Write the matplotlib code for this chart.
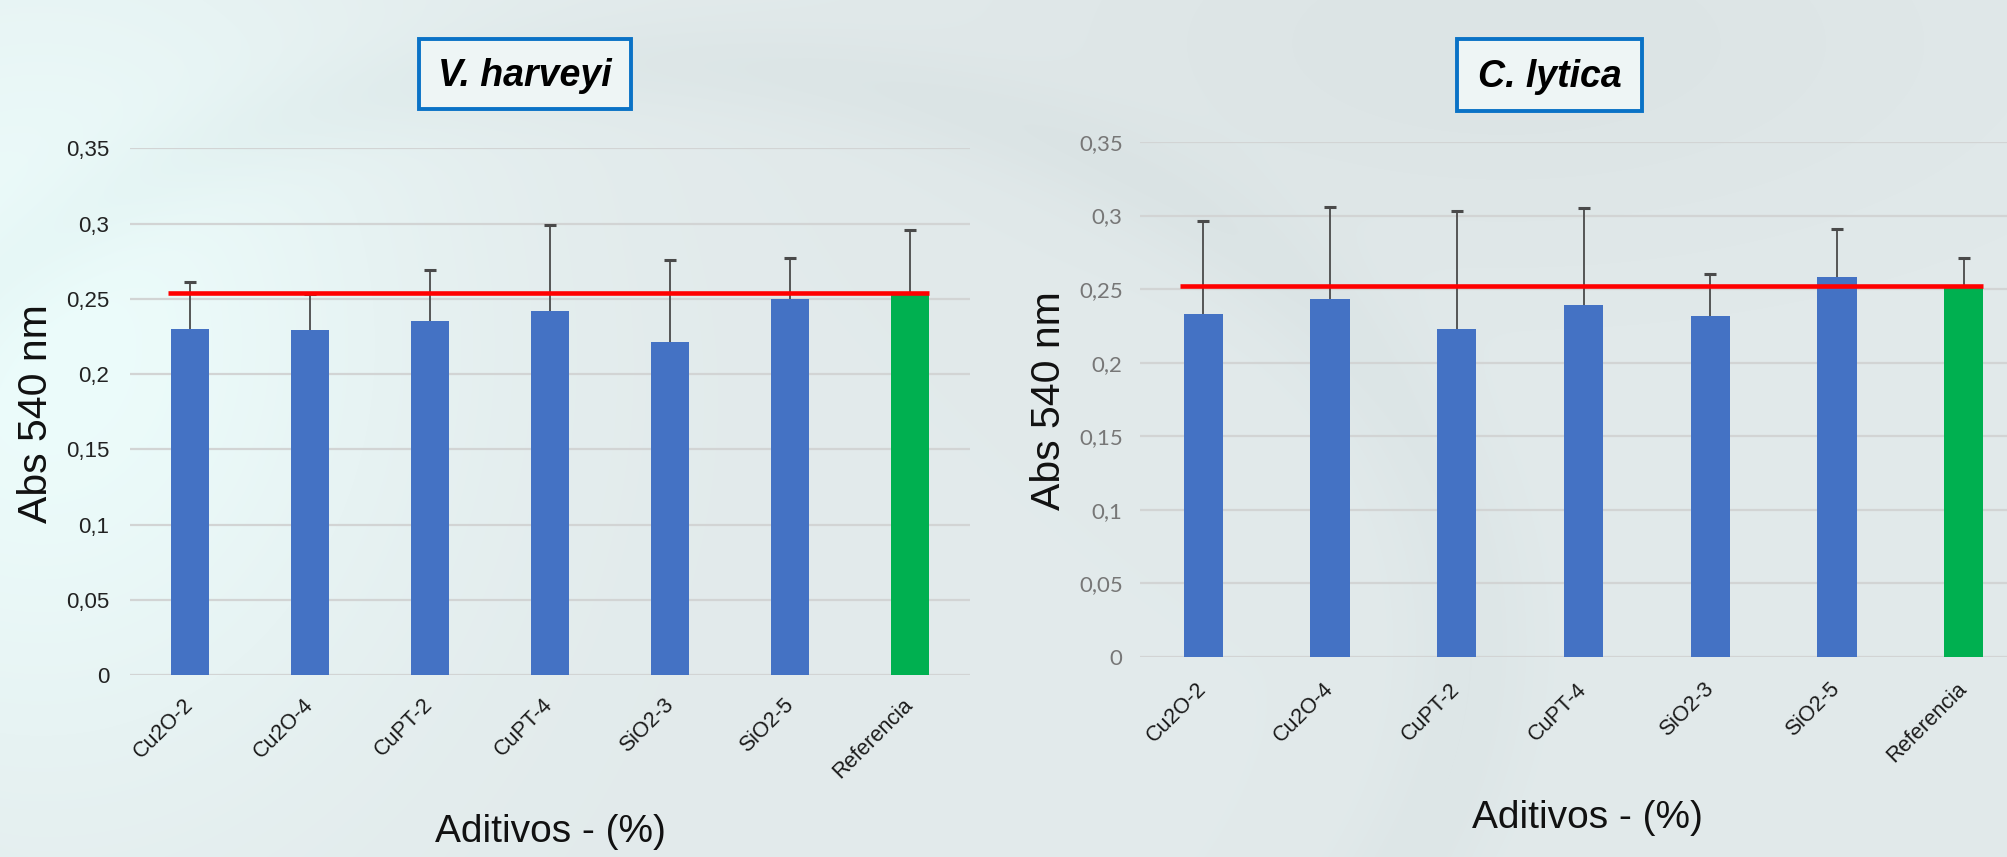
import matplotlib.pyplot as plt
import matplotlib.transforms as mtransforms
import numpy as np
from matplotlib.patches import Rectangle

# --- data -------------------------------------------------------------
categories = ["Cu2O-2", "Cu2O-4", "CuPT-2", "CuPT-4", "SiO2-3", "SiO2-5", "Referencia"]

harveyi_abs = [0.230, 0.229, 0.235, 0.242, 0.221, 0.250, 0.254]
harveyi_err = [0.031, 0.024, 0.034, 0.057, 0.055, 0.027, 0.042]
harveyi_ref = 0.254

lytica_abs = [0.233, 0.243, 0.223, 0.239, 0.232, 0.258, 0.253]
lytica_err = [0.063, 0.063, 0.080, 0.066, 0.028, 0.033, 0.018]
lytica_ref = 0.252

y_ticks = [0, 0.05, 0.1, 0.15, 0.2, 0.25, 0.3, 0.35]
y_ticklabels = ["0", "0,05", "0,1", "0,15", "0,2", "0,25", "0,3", "0,35"]

BLUE = "#4472C4"
GREEN = "#00B050"
W, H = 2008, 857

fig = plt.figure(figsize=(W / 100, H / 100), dpi=100)

# soft washed-out backdrop
yy, xx = np.mgrid[0:H, 0:W]
xn, yn = xx / W, yy / H
base = np.array([226, 234, 235]) / 255
bg = np.ones((H, W, 3)) * base
glow = np.exp(-(((xn - 0.02) / 0.2) ** 2 + ((yn - 0.4) / 0.55) ** 2))
bg += glow[..., None] * (np.array([10, 18, 16]) / 255)
shade = np.exp(-(((xn - 0.75) / 0.25) ** 2 + ((yn - 0.05) / 0.25) ** 2))
bg -= shade[..., None] * (np.array([6, 6, 6]) / 255)
arc = np.exp(-((np.hypot((xn - 0.32) / 0.55, (yn - 0.75) / 0.9) - 0.75) / 0.06) ** 2)
bg -= arc[..., None] * (np.array([5, 4, 4]) / 255)
bg_ax = fig.add_axes([0, 0, 1, 1], zorder=-10)
bg_ax.imshow(np.clip(bg, 0, 1), aspect="auto", interpolation="bilinear")
bg_ax.axis("off")


def px_rect(x0, x1, y_top, y_bot):
    return [x0 / W, 1 - y_bot / H, (x1 - x0) / W, (y_bot - y_top) / H]


def draw_panel(rect, values, errors, ref, tick_font, tick_color, tick_pad, x_pad):
    ax = fig.add_axes(rect)
    ax.set_facecolor("none")
    x = np.arange(len(categories))
    values = np.asarray(values)
    tops = values + np.asarray(errors)
    width = 0.31
    colors = [BLUE] * (len(categories) - 1) + [GREEN]
    ax.bar(x, values, width=width, color=colors, zorder=3)
    # upper-only error bars
    ax.vlines(x, values, tops, color="#4a4a4a", lw=1.3, zorder=4)
    ax.plot(x, tops, ls="none", marker="_", ms=8, mew=2.2, color="#4a4a4a", zorder=4)
    ax.hlines(ref, x[0] - width / 2 - 0.03, x[-1] + width / 2, color="#ff0000",
              lw=3.3, zorder=5)
    ax.set_xlim(-0.5, len(categories) - 0.5)
    ax.set_ylim(0, 0.35)
    ax.set_yticks(y_ticks)
    ax.set_yticklabels(y_ticklabels, family=tick_font, fontsize=16, color=tick_color)
    ax.set_xticks(x)
    ax.set_xticklabels(categories, rotation=45, ha="right", va="center",
                       rotation_mode="anchor", family="Liberation Sans",
                       fontsize=15.5, color="#1a1a1a")
    shift = mtransforms.ScaledTranslation(5 / 100, 0, fig.dpi_scale_trans)
    for lab in ax.get_xticklabels():
        lab.set_transform(lab.get_transform() + shift)
    ax.tick_params(axis="y", length=0, pad=tick_pad)
    ax.tick_params(axis="x", length=0, pad=x_pad)
    ax.grid(axis="y", color="#d2d4d4", lw=1.6, zorder=0)
    for s in ax.spines.values():
        s.set_visible(False)
    return ax


draw_panel(px_rect(130, 970, 148.3, 675), harveyi_abs, harveyi_err, harveyi_ref,
           "Liberation Sans", "#222222", 15, 19)
draw_panel(px_rect(1140, 2027, 142, 657), lytica_abs, lytica_err, lytica_ref,
           "Lato", "#777777", 12.5, 21)

# axis titles
for xc, yc in [(36, 414), (1049, 401)]:
    fig.text(xc / W, 1 - yc / H, "Abs 540 nm", rotation=90, ha="center", va="center",
             family="Liberation Sans", fontsize=29.5, color="#111111")
for xc, yc in [(550, 832), (1587, 818)]:
    fig.text(xc / W, 1 - yc / H, "Aditivos - (%)", ha="center", va="center",
             family="Liberation Sans", fontsize=28, color="#111111")

# boxed species names
for (x0, x1, y0, y1), name in [((419, 631, 39, 109), "V. harveyi"),
                               ((1457, 1642, 39, 111), "C. lytica")]:
    fig.add_artist(Rectangle((x0 / W, 1 - y1 / H), (x1 - x0) / W, (y1 - y0) / H,
                             transform=fig.transFigure, facecolor="#eef5f5",
                             edgecolor="#0a72c6", lw=2.8))
    fig.text((x0 + x1) / 2 / W, 1 - ((y0 + y1) / 2 + 2) / H, name, ha="center",
             va="center", family="Liberation Sans", fontsize=27,
             fontweight="bold", fontstyle="italic", color="black")

fig.savefig("out.png", dpi=100)
